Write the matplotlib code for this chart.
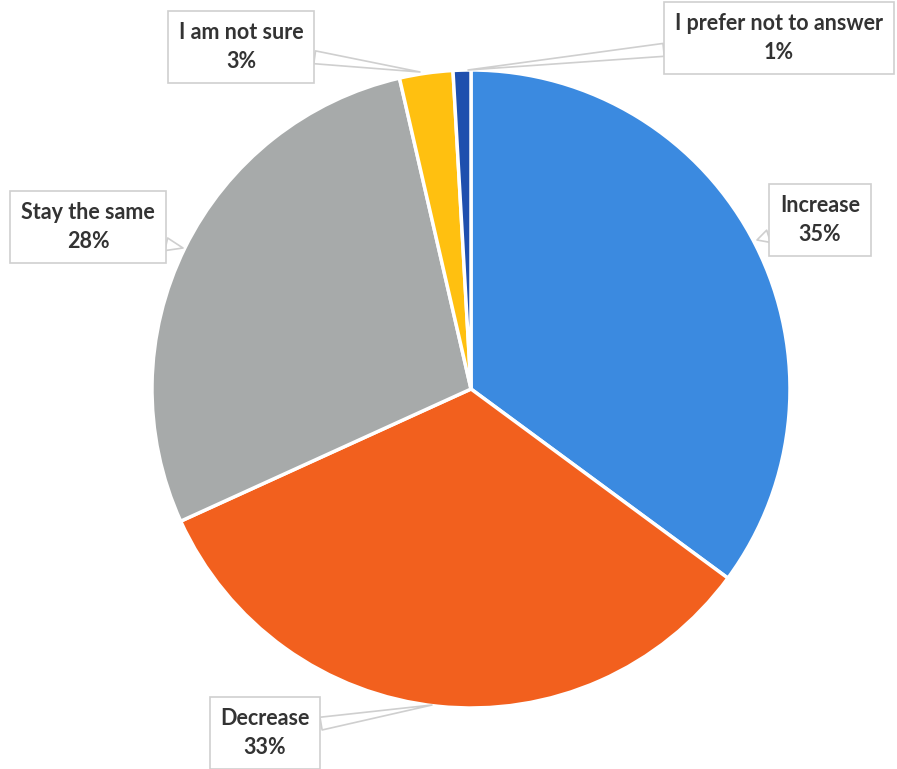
import matplotlib
matplotlib.use("Agg")
import matplotlib.pyplot as plt

# 数据
labels = ["Increase", "Decrease", "Stay the same", "I am not sure", "I prefer not to answer"]
values = [35.1, 33.1, 28.2, 2.7, 0.9]
pct_text = ["35%", "33%", "28%", "3%", "1%"]
colors = ["#3B8AE0", "#F2601E", "#A7AAAA", "#FFC010", "#1F4FAE"]

# 标签框位置与指向点（像素坐标，y 向下）
box_pos = [(820, 220), (265, 733), (88, 227), (241, 47), (779, 38)]
tip_pos = [(757, 240), (432, 705), (183, 248), (420, 72), (468, 70)]

W, H = 897, 769
fig = plt.figure(figsize=(W / 100, H / 100), dpi=100)
ax = fig.add_axes([0, 0, 1, 1])
ax.set_xlim(0, W)
ax.set_ylim(0, H)
ax.set_aspect("equal")
ax.axis("off")

ax.pie(values, colors=colors, startangle=90, counterclock=False,
       center=(471, H - 389), radius=319,
       wedgeprops=dict(edgecolor="white", linewidth=2.5))
ax.set_xlim(0, W)
ax.set_ylim(0, H)

for lab, pct, (bx, by), (tx, ty) in zip(labels, pct_text, box_pos, tip_pos):
    ax.annotate(f"{lab}\n{pct}", xy=(tx, H - ty), xytext=(bx, H - by),
                ha="center", va="center", fontsize=15.5, fontweight="bold",
                family=["Lato", "DejaVu Sans"], color="#333333",
                linespacing=1.45,
                bbox=dict(boxstyle="square,pad=0.5", fc="white", ec="#CFCFCF", lw=1.2),
                arrowprops=dict(arrowstyle="wedge,tail_width=0.6", fc="white",
                                ec="#CFCFCF", lw=1.2, shrinkA=0, shrinkB=0))

fig.savefig("out.png", dpi=100)
